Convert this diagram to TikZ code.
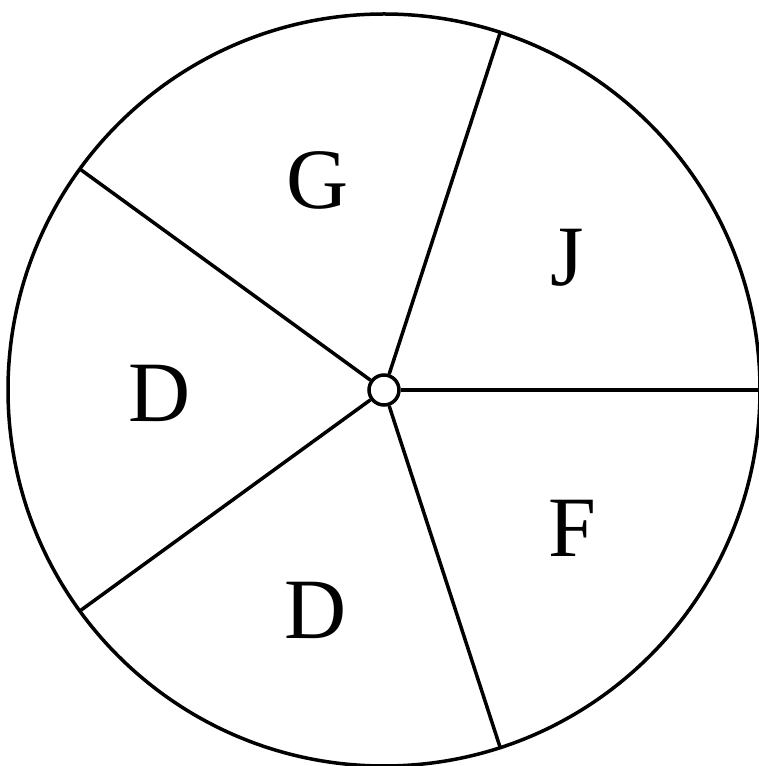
\documentclass[tikz,border=0pt]{standalone}
\usepackage{fontspec}
\setmainfont{Liberation Serif}
\usetikzlibrary{calc}
\begin{document}
\begin{tikzpicture}[x=1pt,y=1pt,
  rim/.style={line width=3.5pt},
  spoke/.style={line width=3.5pt},
  lbl/.style={font=\fontsize{86}{86}\selectfont, inner sep=0pt, anchor=center}]
\useasboundingbox (0,0) rectangle (759,766);
\coordinate (c) at (384,376);
\draw[rim] (c) circle (376);
\foreach \a/\n in {0/e0,72/e1,144/e2,216/e3,288/e4}{
  \coordinate (\n) at ($(c)+(\a:376)$);
}
\node[draw, circle, line width=3.5pt, fill=white, minimum size=30pt, inner sep=0pt] (hub) at (c) {};
\foreach \n in {e0,e1,e2,e3,e4}{
  \draw[spoke] (hub) -- (\n);
}
\node[lbl] (g) at (318,586) {G};
\node[lbl] (j) at (567,508) {J};
\node[lbl] (d1) at (160,373) {D};
\node[lbl] (d2) at (316,156) {D};
\node[lbl] (f) at (572,238) {F};
\end{tikzpicture}
\end{document}
